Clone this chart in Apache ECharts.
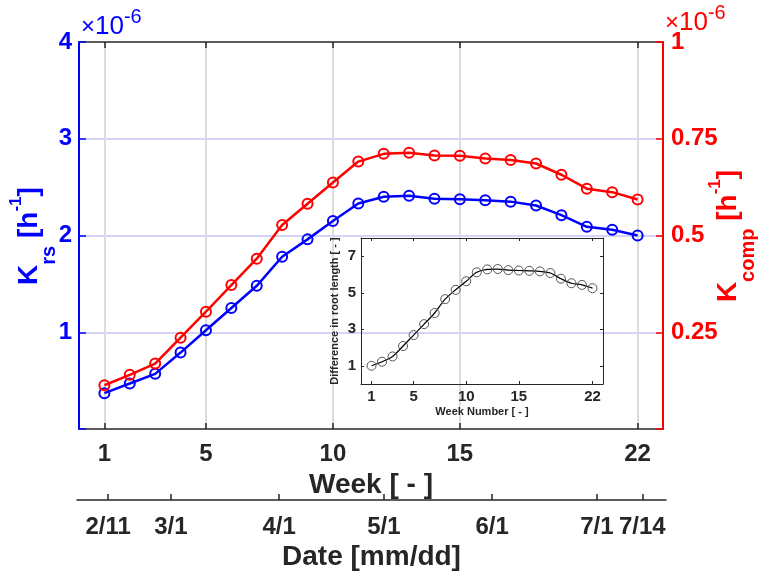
<!DOCTYPE html>
<html>
<head>
<meta charset="utf-8">
<title>Krs / Kcomp by week</title>
<script src="https://cdn.jsdelivr.net/npm/echarts@6/dist/echarts.min.js"></script>
<style>
  html, body { margin: 0; padding: 0; background: #fff; }
  #chart { width: 759px; height: 577px; }
</style>
</head>
<body>
<div id="chart"></div>
<script>
// data (x10^-6 h^-1)
var weeks = [1, 2, 3, 4, 5, 6, 7, 8, 9, 10, 11, 12, 13, 14, 15, 16, 17, 18, 19, 20, 21, 22];
var krs = [0.37, 0.47, 0.57, 0.79, 1.02, 1.25, 1.48, 1.78, 1.96, 2.15, 2.33, 2.40, 2.41, 2.38, 2.375, 2.365, 2.35, 2.31, 2.21, 2.09, 2.06, 2.00];
var kcomp = [0.113, 0.140, 0.169, 0.236, 0.303, 0.372, 0.440, 0.527, 0.582, 0.637, 0.691, 0.711, 0.714, 0.707, 0.706, 0.699, 0.695, 0.686, 0.657, 0.621, 0.612, 0.593];
var rootDiff = [1.0, 1.22, 1.51, 2.08, 2.68, 3.28, 3.89, 4.65, 5.16, 5.63, 6.12, 6.28, 6.30, 6.24, 6.22, 6.20, 6.17, 6.08, 5.77, 5.52, 5.43, 5.25];

var weekTicks = [1, 5, 10, 15, 22];
var insetTicks = [1, 3, 5, 7];
var dateDays = [42, 60, 91, 121, 152, 182, 195];   // day of year
var dateLabels = ['2/11', '3/1', '4/1', '5/1', '6/1', '7/1', '7/14'];

var FONT = '"Liberation Sans", Arial, Helvetica, sans-serif';
var DARK = '#262626';
var BLUE = '#0000ff';
var RED = '#ff0000';

function pairs(ys) {
    return weeks.map(function (w, i) { return [w, ys[i]]; });
}

function titleRich(col) {
    return {
        k: { fill: col, fontFamily: FONT, fontSize: 28, fontWeight: 'bold', lineHeight: 60 },
        sub: { fill: col, fontFamily: FONT, fontSize: 20, fontWeight: 'bold', lineHeight: 24, verticalAlign: 'bottom' },
        sup: { fill: col, fontFamily: FONT, fontSize: 17, fontWeight: 'bold', verticalAlign: 'top', padding: [9, 0, 0, 0] }
    };
}

function expRich(col) {
    return {
        x: { fill: col, fontFamily: FONT, fontSize: 24, lineHeight: 40 },
        n: { fill: col, fontFamily: FONT, fontSize: 26, lineHeight: 40 },
        s: { fill: col, fontFamily: FONT, fontSize: 20, lineHeight: 18, verticalAlign: 'top' }
    };
}

// shared bits for the boxed axes
function boxLine(col, w) {
    return { show: true, onZero: false, lineStyle: { color: col, width: w } };
}

var chart = echarts.init(document.getElementById('chart'), null, { renderer: 'canvas' });

var option = {
    animation: false,
    backgroundColor: '#fff',
    textStyle: { fontFamily: FONT },
    grid: [
        { left: 79, top: 42, width: 584, height: 387, containLabel: false, outerBoundsMode: 'none' },
        { left: 361, top: 238, width: 242, height: 146, containLabel: false, outerBoundsMode: 'none' },
        { left: 77, top: 470, width: 589, height: 30, containLabel: false, outerBoundsMode: 'none' }
    ],
    xAxis: [
        {
            gridIndex: 0, type: 'value', min: 0, max: 23, position: 'bottom',
            axisLine: boxLine(DARK, 1.5),
            axisTick: { inside: true, length: 6, customValues: weekTicks, lineStyle: { color: DARK, width: 1.5 } },
            axisLabel: { customValues: weekTicks, margin: 13, fontSize: 24, fontWeight: 'bold', color: DARK },
            splitLine: { show: true, lineStyle: { color: '#dcdcdc', width: 2 } },
            name: 'Week [ - ]', nameLocation: 'middle', nameGap: 36,
            nameTextStyle: { fontSize: 28, fontWeight: 'bold', color: DARK }
        },
        {
            gridIndex: 0, type: 'value', min: 0, max: 23, position: 'top',
            axisLine: boxLine(DARK, 1.5),
            axisTick: { inside: true, length: 6, customValues: weekTicks, lineStyle: { color: DARK, width: 1.5 } },
            axisLabel: { show: false },
            splitLine: { show: false }
        },
        {
            gridIndex: 1, type: 'value', min: 0, max: 23, position: 'bottom',
            axisLine: boxLine(DARK, 1),
            axisTick: { inside: true, length: 3, customValues: weekTicks, lineStyle: { color: DARK } },
            axisLabel: { customValues: weekTicks, margin: 5, fontSize: 15, fontWeight: 'bold', color: DARK },
            splitLine: { show: false },
            name: 'Week Number [ - ]', nameLocation: 'middle', nameGap: 22,
            nameTextStyle: { fontSize: 11, fontWeight: 'bold', color: DARK }
        },
        {
            gridIndex: 1, type: 'value', min: 0, max: 23, position: 'top',
            axisLine: boxLine(DARK, 1),
            axisTick: { inside: true, length: 3, customValues: weekTicks, lineStyle: { color: DARK } },
            axisLabel: { show: false },
            splitLine: { show: false }
        },
        {
            gridIndex: 2, type: 'value', min: 33.1, max: 201.8, position: 'bottom',
            axisLine: boxLine(DARK, 1.5),
            axisTick: { inside: true, length: 6, customValues: dateDays, lineStyle: { color: DARK, width: 1.5 } },
            axisLabel: {
                customValues: dateDays, margin: 15, fontSize: 24, fontWeight: 'bold', color: DARK,
                formatter: function (v) {
                    var i = dateDays.indexOf(v);
                    return i >= 0 ? dateLabels[i] : '';
                }
            },
            splitLine: { show: false },
            name: 'Date [mm/dd]', nameLocation: 'middle', nameGap: 43,
            nameTextStyle: { fontSize: 28, fontWeight: 'bold', color: DARK }
        }
    ],
    yAxis: [
        {
            gridIndex: 0, type: 'value', min: 0, max: 4, interval: 1, position: 'left',
            axisLine: boxLine(BLUE, 2),
            axisTick: { show: true, inside: true, length: 7, lineStyle: { color: BLUE, width: 1.5 } },
            axisLabel: {
                margin: 7, fontSize: 24, fontWeight: 'bold', color: BLUE,
                formatter: function (v) { return v === 0 ? '' : String(v); }
            },
            splitLine: { show: true, showMinLine: false, showMaxLine: false, lineStyle: { color: '#d4d4fb', width: 2 } }
        },
        {
            gridIndex: 0, type: 'value', min: 0, max: 1, interval: 0.25, position: 'right',
            axisLine: boxLine(RED, 2),
            axisTick: { show: true, inside: true, length: 7, lineStyle: { color: RED, width: 1.5 } },
            axisLabel: {
                margin: 8, fontSize: 24, fontWeight: 'bold', color: RED,
                formatter: function (v) { return v === 0 ? '' : String(v); }
            },
            splitLine: { show: false }
        },
        {
            gridIndex: 1, type: 'value', min: 0, max: 8, position: 'left',
            axisLine: boxLine(DARK, 1),
            axisTick: { show: true, inside: true, length: 3, customValues: insetTicks, lineStyle: { color: DARK } },
            axisLabel: { customValues: insetTicks, margin: 5, fontSize: 15, fontWeight: 'bold', color: DARK },
            splitLine: { show: false },
            name: 'Difference in root length [ - ]', nameLocation: 'middle', nameGap: 21, nameRotate: 90,
            nameTextStyle: { fontSize: 11, fontWeight: 'bold', color: DARK }
        },
        {
            gridIndex: 1, type: 'value', min: 0, max: 8, position: 'right',
            axisLine: boxLine(DARK, 1),
            axisTick: { show: true, inside: true, length: 3, customValues: insetTicks, lineStyle: { color: DARK } },
            axisLabel: { show: false },
            splitLine: { show: false }
        },
        { gridIndex: 2, type: 'value', min: 0, max: 1, show: false }
    ],
    series: [
        {
            name: 'Krs', type: 'line', xAxisIndex: 0, yAxisIndex: 0, z: 5,
            data: pairs(krs),
            symbol: 'circle', symbolSize: 10,
            lineStyle: { color: BLUE, width: 2.5 },
            itemStyle: { color: 'rgba(0,0,0,0)', borderColor: BLUE, borderWidth: 2 }
        },
        {
            name: 'Kcomp', type: 'line', xAxisIndex: 0, yAxisIndex: 1, z: 5,
            data: pairs(kcomp),
            symbol: 'circle', symbolSize: 10,
            lineStyle: { color: RED, width: 2.5 },
            itemStyle: { color: 'rgba(0,0,0,0)', borderColor: RED, borderWidth: 2 }
        },
        {
            name: 'root', type: 'line', xAxisIndex: 2, yAxisIndex: 2, z: 5,
            data: pairs(rootDiff),
            smooth: 0.3,
            symbol: 'circle', symbolSize: 9,
            lineStyle: { color: '#000', width: 1.2 },
            itemStyle: { color: 'rgba(0,0,0,0)', borderColor: '#555', borderWidth: 1 }
        }
    ],
    graphic: [
        {
            type: 'text', x: 29, y: 236, rotation: Math.PI / 2, z: 10,
            style: { text: '{k|K}{sub|rs}{k| [h}{sup|-1}{k|]}', rich: titleRich(BLUE), fill: BLUE, align: 'center', verticalAlign: 'middle' }
        },
        {
            type: 'text', x: 728, y: 236, rotation: Math.PI / 2, z: 10,
            style: { text: '{k|K}{sub|comp}{k| [h}{sup|-1}{k|]}', rich: titleRich(RED), fill: RED, align: 'center', verticalAlign: 'middle' }
        },
        {
            type: 'text', x: 81, y: 27, z: 10,
            style: { text: '{x|×}{n|10}{s|-6}', rich: expRich(BLUE), fill: BLUE, align: 'left', verticalAlign: 'middle' }
        },
        {
            type: 'text', x: 665, y: 23, z: 10,
            style: { text: '{x|×}{n|10}{s|-6}', rich: expRich(RED), fill: RED, align: 'left', verticalAlign: 'middle' }
        }
    ]
};

chart.setOption(option);
</script>
</body>
</html>
